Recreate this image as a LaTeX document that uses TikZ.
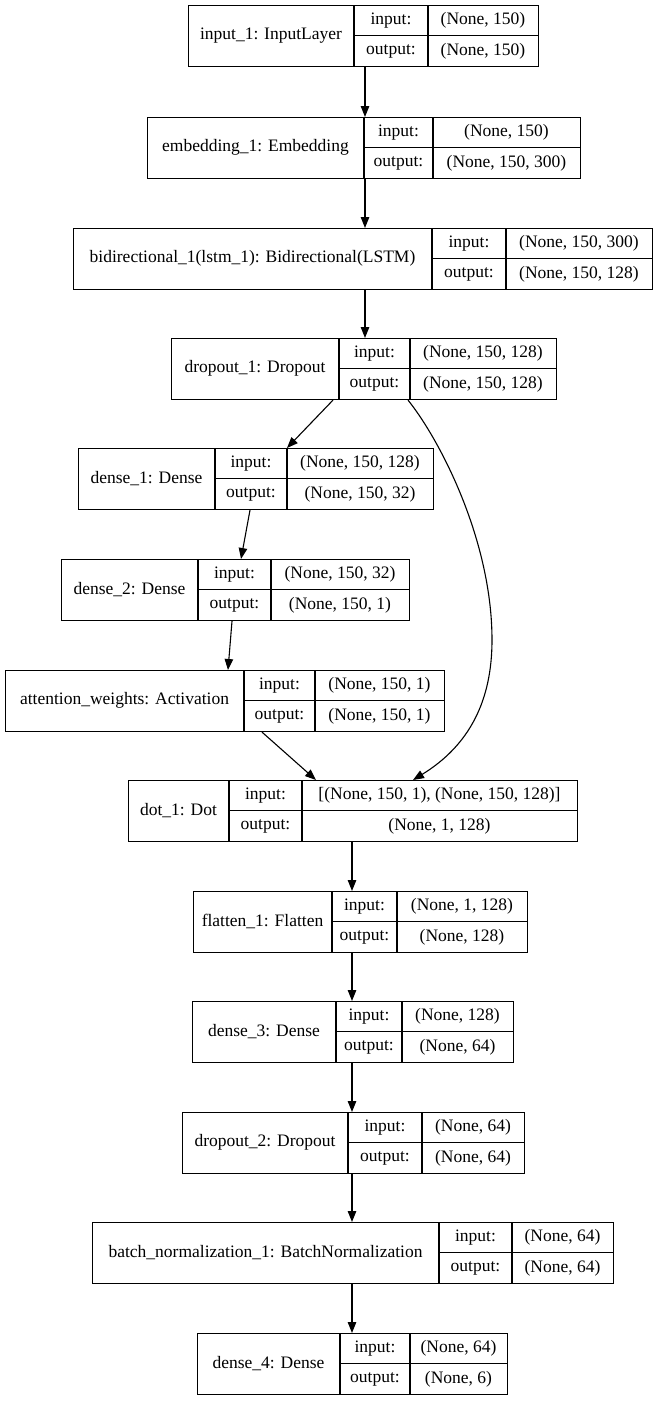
\documentclass[tikz,border=0pt]{standalone}
\usepackage{fontspec}
\setmainfont{Liberation Serif}
\usetikzlibrary{arrows.meta}

\tikzset{
  layerbox/.style={draw=black, line width=1.1pt, inner sep=0pt, minimum height=61},
  rule/.style={draw=black, line width=1.1pt},
  txt/.style={inner sep=0pt, font=\fontsize{17.5}{20}\selectfont},
  flow/.style={draw=black, line width=1.1pt, -{Triangle[length=11pt,width=8.5pt]}},
}

% One Keras layer record: name | {input: | output:} | {in | out}
% #1 node name, #2..#5 column edges x0 x1 x2 x3, #6 top y, #7 title, #8 input shape, #9 output shape
\newcommand\kerasrow[9]{%
  \node[layerbox, minimum width={#5-#2}, anchor=north west] (#1) at (#2,{-#6}) {};
  \draw[rule] (#3,{-#6}) -- (#3,{-#6-61});
  \draw[rule] (#4,{-#6}) -- (#4,{-#6-61});
  \draw[rule] (#3,{-#6-30.5}) -- (#5,{-#6-30.5});
  \node[txt] (#1-name) at ({(#2+#3)/2},{-#6-30.5}) {#7};
  \node[txt] (#1-inl)  at ({(#3+#4)/2},{-#6-15.5}) {input:};
  \node[txt] (#1-outl) at ({(#3+#4)/2},{-#6-46}) {output:};
  \node[txt] (#1-inv)  at ({(#4+#5)/2},{-#6-15.5}) {#8};
  \node[txt] (#1-outv) at ({(#4+#5)/2},{-#6-46}) {#9};
}

\begin{document}
\begin{tikzpicture}[x=1pt, y=1pt]
  \fill[white] (0,0) rectangle (658,-1401);
  \useasboundingbox (0,0) rectangle (658,-1401);

  \kerasrow{inp}{188}{354}{428}{538}{5}{input\_1: InputLayer}{(None, 150)}{(None, 150)}
  \kerasrow{emb}{147}{364}{433}{580}{117}{embedding\_1: Embedding}{(None, 150)}{(None, 150, 300)}
  \kerasrow{bid}{73}{432}{506}{652}{228}{bidirectional\_1(lstm\_1): Bidirectional(LSTM)}{(None, 150, 300)}{(None, 150, 128)}
  \kerasrow{drop1}{171}{339}{410}{556}{338}{dropout\_1: Dropout}{(None, 150, 128)}{(None, 150, 128)}
  \kerasrow{dense1}{78}{215}{287}{433}{448}{dense\_1: Dense}{(None, 150, 128)}{(None, 150, 32)}
  \kerasrow{dense2}{61}{198}{271}{409}{559}{dense\_2: Dense}{(None, 150, 32)}{(None, 150, 1)}
  \kerasrow{att}{5}{244}{315}{444}{670}{attention\_weights: Activation}{(None, 150, 1)}{(None, 150, 1)}
  \kerasrow{dot}{128}{229}{302}{577}{780}{dot\_1: Dot}{[(None, 150, 1), (None, 150, 128)]}{(None, 1, 128)}
  \kerasrow{flat}{193}{332}{397}{527}{891}{flatten\_1: Flatten}{(None, 1, 128)}{(None, 128)}
  \kerasrow{dense3}{192}{336}{402}{513}{1001}{dense\_3: Dense}{(None, 128)}{(None, 64)}
  \kerasrow{drop2}{182}{348}{422}{524}{1112}{dropout\_2: Dropout}{(None, 64)}{(None, 64)}
  \kerasrow{bn}{92}{439}{512}{613}{1222}{batch\_normalization\_1: BatchNormalization}{(None, 64)}{(None, 64)}
  \kerasrow{dense4}{197}{340}{410}{507}{1333}{dense\_4: Dense}{(None, 64)}{(None, 6)}

  % connectors
  \draw[flow] (inp.south -| 365,0) -- (emb.north -| 365,0);
  \draw[flow] (emb.south -| 365,0) -- (bid.north -| 365,0);
  \draw[flow] (bid.south -| 365,0) -- (drop1.north -| 365,0);
  \draw[flow] (drop1.south -| 333,0) -- (dense1.north -| 287,0);
  \draw[flow] (dense1.south -| 250,0) -- (dense2.north -| 241,0);
  \draw[flow] (dense2.south -| 232,0) -- (att.north -| 228,0);
  \draw[flow] (att.south -| 262,0) -- (dot.north -| 316,0);
  % skip connection from dropout_1 around the attention branch into dot_1
  \coordinate (skipmid) at (492,-640);
  \draw[flow] (drop1.south -| 408,0) .. controls (440,-440) and (492,-540) .. (skipmid)
              .. controls (492,-700) and (470,-745) .. (dot.north -| 413,0);
  \draw[flow] (dot.south -| 352,0) -- (flat.north -| 352,0);
  \draw[flow] (flat.south -| 352,0) -- (dense3.north -| 352,0);
  \draw[flow] (dense3.south -| 352,0) -- (drop2.north -| 352,0);
  \draw[flow] (drop2.south -| 352,0) -- (bn.north -| 352,0);
  \draw[flow] (bn.south -| 352,0) -- (dense4.north -| 352,0);
\end{tikzpicture}
\end{document}
